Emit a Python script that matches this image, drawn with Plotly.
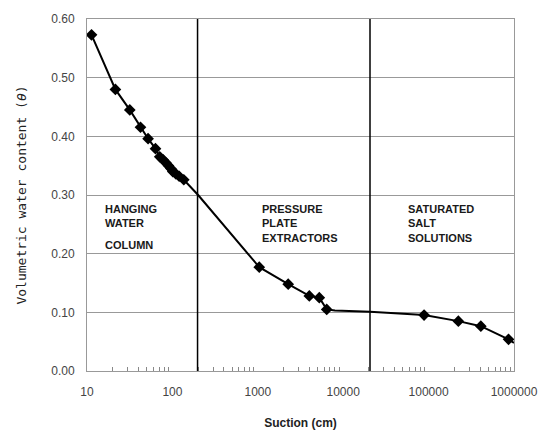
import plotly.graph_objects as go

# measured points
suction = [11.3, 21.5, 31.7, 42.3, 51.9, 63.4, 71.1, 78, 84, 90, 96, 101, 110, 120, 136,
           1040, 2270, 4010, 5250, 6410,
           88500, 223000, 409000, 863000]
theta = [0.573, 0.480, 0.445, 0.4155, 0.396, 0.379, 0.365, 0.360, 0.355, 0.350, 0.345, 0.340, 0.336, 0.332, 0.326,
         0.177, 0.148, 0.128, 0.125, 0.105,
         0.0954, 0.085, 0.0764, 0.054]

# fitted curve through the data
curve_x = [11.3, 21.5, 31.7, 42.3, 51.9, 63.4, 71.1, 101, 136, 200, 1040, 2270, 4010, 5250, 6410,
           8000, 20600, 88500, 223000, 409000, 863000, 1000000]
curve_y = [0.573, 0.480, 0.445, 0.4155, 0.396, 0.379, 0.365, 0.340, 0.326, 0.300, 0.177, 0.148, 0.128, 0.125, 0.105,
           0.103, 0.101, 0.0954, 0.085, 0.0764, 0.054, 0.048]

boundaries = [197, 20600]
x_ticks = [10, 100, 1000, 10000, 100000, 1000000]
y_ticks = [0.0, 0.1, 0.2, 0.3, 0.4, 0.5, 0.6]
minor_x = [d * k for d in x_ticks[:-1] for k in range(2, 10)]

regions = [
    ("HANGING<br>WATER", 0.0375, 0.482),
    ("COLUMN", 0.0375, 0.382),
    ("PRESSURE<br>PLATE<br>EXTRACTORS", 0.406, 0.482),
    ("SATURATED<br>SALT<br>SOLUTIONS", 0.747, 0.482),
]

fig = go.Figure()
fig.add_trace(go.Scatter(x=curve_x, y=curve_y, mode="lines",
                         line=dict(color="black", width=2), hoverinfo="skip", showlegend=False))
fig.add_trace(go.Scatter(x=suction, y=theta, mode="markers",
                         marker=dict(symbol="diamond", size=9, color="black"), showlegend=False))

for b in boundaries:
    fig.add_shape(type="line", xref="x", yref="paper", x0=b, x1=b, y0=0, y1=1,
                  line=dict(color="black", width=1.5))

for txt, xp, yp in regions:
    fig.add_annotation(text=txt, xref="paper", yref="paper", x=xp, y=yp,
                       xanchor="left", yanchor="top", align="left", showarrow=False,
                       font=dict(family="Liberation Sans", size=11, color="#1a1a1a", weight="bold"))

fig.update_layout(
    width=546, height=431,
    margin=dict(l=87, r=32, t=19, b=60),
    paper_bgcolor="white", plot_bgcolor="white",
    font=dict(family="Liberation Sans", color="#444"),
)
fig.update_xaxes(
    type="log", range=[1, 6], automargin=False,
    tickvals=x_ticks, ticktext=[str(v) for v in x_ticks],
    tickfont=dict(size=12, color="#444"),
    ticks="", ticklabelstandoff=10,
    showgrid=False, zeroline=False,
    showline=True, linecolor="#999", linewidth=1, mirror=True,
    minor=dict(tickvals=minor_x, ticks="inside", ticklen=4, tickcolor="#888", tickwidth=1, showgrid=False),
    title=dict(text="<b>Suction (cm)</b>", font=dict(family="Liberation Sans", size=12, color="#222"), standoff=20),
)
fig.update_yaxes(
    range=[0, 0.6], automargin=False, tickvals=y_ticks, ticktext=[f"{v:.2f}" for v in y_ticks],
    tickfont=dict(size=12, color="#444"),
    ticks="", ticklabelstandoff=9,
    showgrid=True, gridcolor="#999", gridwidth=1, zeroline=False,
    showline=True, linecolor="#999", linewidth=1, mirror=True,
    title=dict(text="Volumetric water content (<i>θ</i>)",
               font=dict(family="DejaVu Sans Mono", size=13, color="#222"), standoff=21),
)

fig.write_html("out.html", config={"displayModeBar": False},
               post_script="document.body.style.margin='0';document.body.style.padding='0';")
